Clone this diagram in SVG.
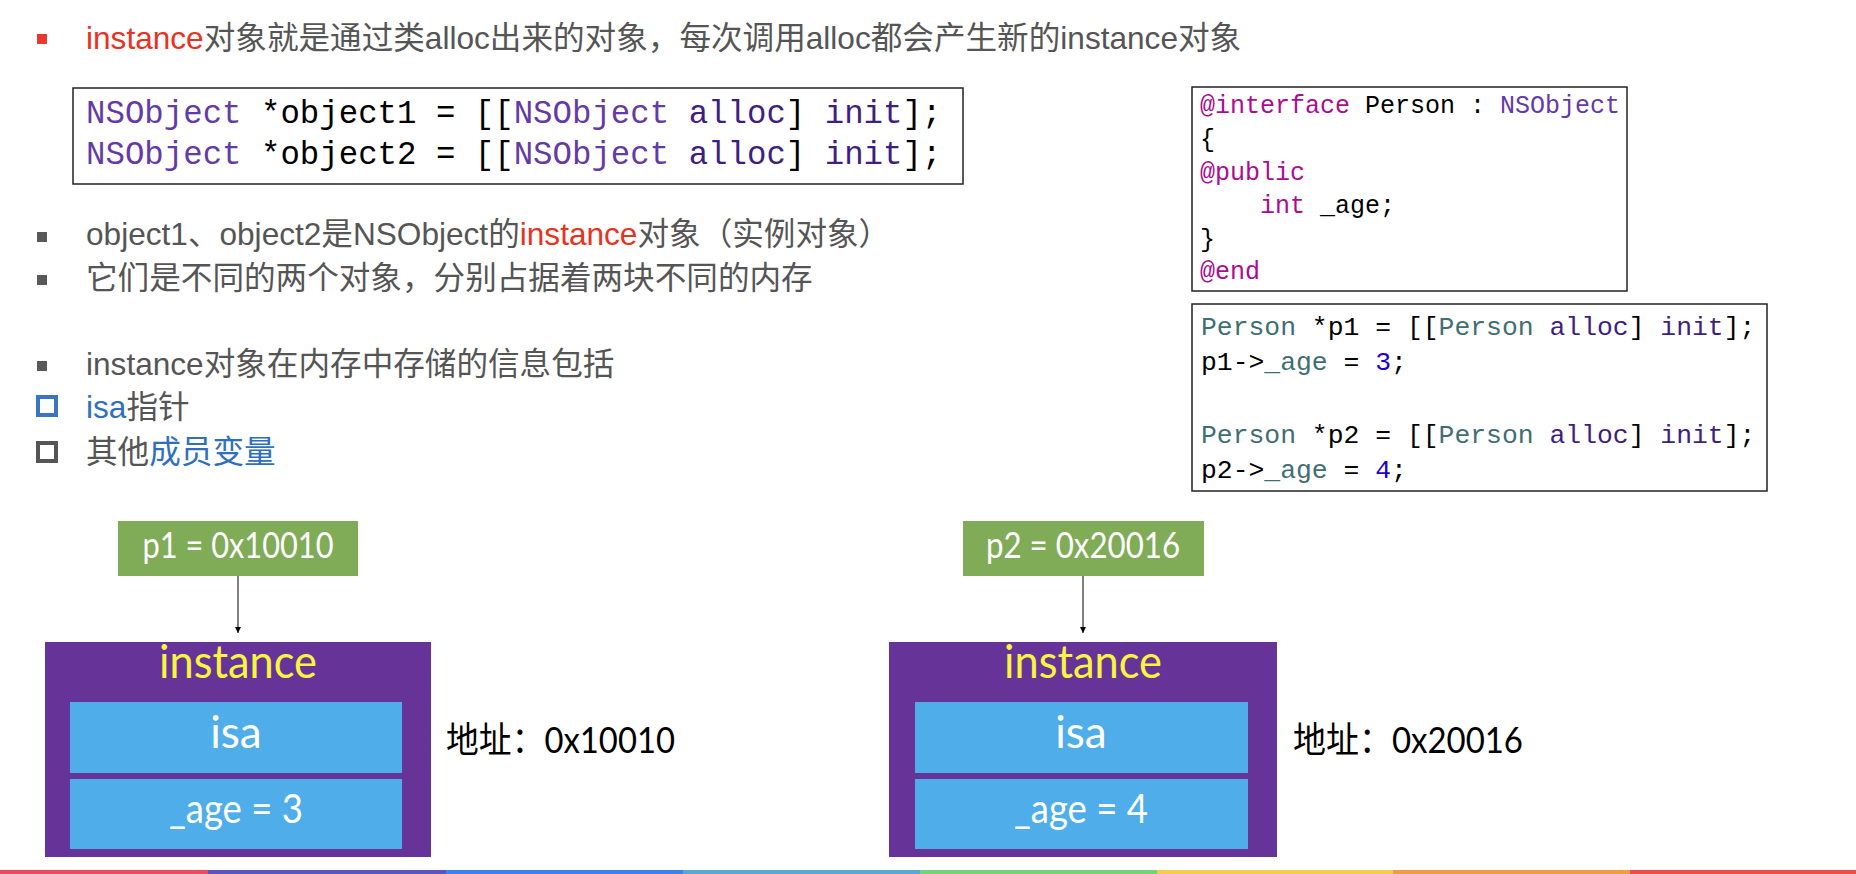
<svg xmlns="http://www.w3.org/2000/svg" width="1856" height="874" viewBox="0 0 1856 874">
<style>
.t{font-family:"Liberation Sans","Noto Sans CJK SC",sans-serif;font-size:31.6px;fill:#555}
.red{fill:#e8321f}
.blue{fill:#2f6fc0}
.code{font-family:"Liberation Mono","DejaVu Sans Mono",monospace;fill:#000}
.c1{font-size:32.4px}
.c2{font-size:25px}
.c3{font-size:26.4px}
.kw{fill:#aa0d91}
.cls{fill:#643aa8}
.meth{fill:#3e1e81}
.prj{fill:#3f6e74}
.num{fill:#1c00cf}
.box{fill:#fff;stroke:#222;stroke-width:1.5}
.ptr{fill:#80ab57}
.inst{fill:#663399}
.slot{fill:#4faeea}
.lbl{font-family:Lato,"Open Sans",sans-serif;fill:#fff;text-anchor:middle}
.ttl{font-family:Lato,"Open Sans",sans-serif;fill:#f9f53e;text-anchor:middle;font-size:47px}
.addr{font-family:Lato,"Noto Sans CJK SC",sans-serif;font-size:36px;fill:#000}
.conn{stroke:#000;stroke-width:1;fill:none}
</style>
<defs>
<marker id="arr" markerWidth="8" markerHeight="8" refX="6" refY="3" orient="auto" markerUnits="userSpaceOnUse">
<path d="M0,0 L6,3 L0,6 z" fill="#000"/>
</marker>
</defs>

<g id="bullets">
<rect x="37" y="34" width="10" height="10" fill="#e8392c"/>
<text class="t" x="86" y="49"><tspan class="red">instance</tspan>对象就是通过类alloc出来的对象，每次调用alloc都会产生新的instance对象</text>
<rect x="37" y="232" width="10" height="10" fill="#595959"/>
<text class="t" x="86" y="245">object1、object2是NSObject的<tspan class="red">instance</tspan>对象（实例对象）</text>
<rect x="37" y="275" width="10" height="10" fill="#595959"/>
<text class="t" x="86" y="289">它们是不同的两个对象，分别占据着两块不同的内存</text>
<rect x="37" y="361" width="10" height="10" fill="#595959"/>
<text class="t" x="86" y="375">instance对象在内存中存储的信息包括</text>
<rect x="38" y="397" width="18" height="18" fill="none" stroke="#3a75c4" stroke-width="4"/>
<text class="t" x="86" y="418"><tspan class="blue">isa</tspan>指针</text>
<rect x="38" y="443" width="18" height="18" fill="none" stroke="#555" stroke-width="4"/>
<text class="t" x="86" y="463">其他<tspan class="blue">成员变量</tspan></text>
</g>

<g id="code-nsobject">
<rect class="box" x="73" y="88" width="890" height="96"/>
<text class="code c1" x="86" y="123" xml:space="preserve"><tspan class="cls">NSObject</tspan> *object1 = [[<tspan class="cls">NSObject</tspan> <tspan class="meth">alloc</tspan>] <tspan class="meth">init</tspan>];</text>
<text class="code c1" x="86" y="164" xml:space="preserve"><tspan class="cls">NSObject</tspan> *object2 = [[<tspan class="cls">NSObject</tspan> <tspan class="meth">alloc</tspan>] <tspan class="meth">init</tspan>];</text>
</g>

<g id="code-interface">
<rect class="box" x="1192" y="87" width="435" height="204"/>
<text class="code c2" x="1200" y="113" xml:space="preserve"><tspan class="kw">@interface</tspan> Person : <tspan class="cls">NSObject</tspan></text>
<text class="code c2" x="1200" y="147">{</text>
<text class="code c2 kw" x="1200" y="180">@public</text>
<text class="code c2" x="1260" y="213" xml:space="preserve"><tspan class="kw">int</tspan> _age;</text>
<text class="code c2" x="1200" y="247">}</text>
<text class="code c2 kw" x="1200" y="279">@end</text>
</g>

<g id="code-usage">
<rect class="box" x="1192" y="304" width="575" height="187"/>
<text class="code c3" x="1201" y="335" xml:space="preserve"><tspan class="prj">Person</tspan> *p1 = [[<tspan class="prj">Person</tspan> <tspan class="meth">alloc</tspan>] <tspan class="meth">init</tspan>];</text>
<text class="code c3" x="1201" y="370" xml:space="preserve">p1-&gt;<tspan class="prj">_age</tspan> = <tspan class="num">3</tspan>;</text>
<text class="code c3" x="1201" y="443" xml:space="preserve"><tspan class="prj">Person</tspan> *p2 = [[<tspan class="prj">Person</tspan> <tspan class="meth">alloc</tspan>] <tspan class="meth">init</tspan>];</text>
<text class="code c3" x="1201" y="478" xml:space="preserve">p2-&gt;<tspan class="prj">_age</tspan> = <tspan class="num">4</tspan>;</text>
</g>

<g id="p1">
<rect class="ptr" x="118" y="521" width="240" height="55"/>
<text class="lbl" x="238" y="558" font-size="36" textLength="191" lengthAdjust="spacingAndGlyphs">p1 = 0x10010</text>
</g>
<g id="instance1">
<rect class="inst" x="45" y="642" width="386" height="215"/>
<text class="ttl" x="238" y="678" textLength="158" lengthAdjust="spacingAndGlyphs">instance</text>
<rect class="slot" x="70" y="702" width="332" height="71"/>
<text class="lbl" x="236" y="748" font-size="44">isa</text>
<rect class="slot" x="70" y="779" width="332" height="70"/>
<text class="lbl" x="236" y="823" font-size="40" textLength="134" lengthAdjust="spacingAndGlyphs">_age = 3</text>
</g>
<g id="addr1">
<text class="addr" x="446" y="753" textLength="229" lengthAdjust="spacingAndGlyphs">地址：0x10010</text>
</g>

<g id="p2">
<rect class="ptr" x="963" y="521" width="241" height="55"/>
<text class="lbl" x="1083" y="558" font-size="36" textLength="194" lengthAdjust="spacingAndGlyphs">p2 = 0x20016</text>
</g>
<g id="instance2">
<rect class="inst" x="889" y="642" width="388" height="215"/>
<text class="ttl" x="1083" y="678" textLength="158" lengthAdjust="spacingAndGlyphs">instance</text>
<rect class="slot" x="915" y="702" width="333" height="71"/>
<text class="lbl" x="1081" y="748" font-size="44">isa</text>
<rect class="slot" x="915" y="779" width="333" height="70"/>
<text class="lbl" x="1081" y="823" font-size="40" textLength="134" lengthAdjust="spacingAndGlyphs">_age = 4</text>
</g>
<g id="addr2">
<text class="addr" x="1293" y="753" textLength="230" lengthAdjust="spacingAndGlyphs">地址：0x20016</text>
</g>

<g id="connectors">
<line class="conn" x1="238" y1="576" x2="238" y2="633" marker-end="url(#arr)"/>
<line class="conn" x1="1083" y1="576" x2="1083" y2="633" marker-end="url(#arr)"/>
</g>

<g id="stripe">
<rect x="0" y="870" width="208" height="4" fill="#ec4a5e"/>
<rect x="208" y="870" width="238" height="4" fill="#5b52c4"/>
<rect x="446" y="870" width="237" height="4" fill="#3c82ee"/>
<rect x="683" y="870" width="237" height="4" fill="#58a8d4"/>
<rect x="920" y="870" width="237" height="4" fill="#76d27a"/>
<rect x="1157" y="870" width="236" height="4" fill="#f5cc4c"/>
<rect x="1393" y="870" width="237" height="4" fill="#f09d3e"/>
<rect x="1630" y="870" width="226" height="4" fill="#ec4c4c"/>
</g>
</svg>
